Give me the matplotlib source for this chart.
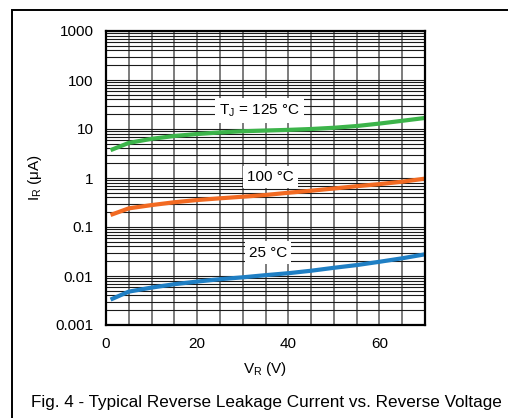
import matplotlib
matplotlib.use("Agg")
import matplotlib.pyplot as plt
from matplotlib.patches import Rectangle
from matplotlib.ticker import FixedLocator, NullFormatter, LogLocator

plt.rcParams['font.family'] = ['Liberation Sans', 'DejaVu Sans']
plt.rcParams['mathtext.fontset'] = 'custom'
plt.rcParams['mathtext.rm'] = 'Liberation Sans'

vr = [1, 5, 10, 15, 20, 25, 30, 35, 40, 45, 50, 55, 60, 65, 70]
ir_125 = [3.7, 5.2, 6.3, 7.2, 7.9, 8.5, 9.0, 9.3, 9.6, 10.0, 10.6, 11.5, 12.9, 14.7, 16.8]
ir_100 = [0.176, 0.24, 0.28, 0.32, 0.355, 0.385, 0.415, 0.45, 0.50, 0.55, 0.61, 0.68, 0.75, 0.84, 0.97]
ir_25 = [0.0033, 0.0048, 0.0058, 0.0068, 0.0077, 0.0086, 0.0094, 0.0104, 0.0114, 0.0128, 0.0147, 0.0167, 0.0195, 0.023, 0.0277]

x_ticks = [0, 20, 40, 60]
y_ticks = [0.001, 0.01, 0.1, 1, 10, 100, 1000]
y_ticklabels = ['0.001', '0.01', '0.1', '1', '10', '100', '1000']

fig = plt.figure(figsize=(5.08, 4.18), dpi=100)
ax = fig.add_axes([106/508, 1-325/418, 319/508, 294/418])

ax.set_yscale('log')
ax.set_xlim(0, 70)
ax.set_ylim(0.001, 1000)

# grid
ax.xaxis.set_minor_locator(FixedLocator(list(range(5, 70, 5))))
ax.yaxis.set_minor_locator(LogLocator(base=10, subs=range(2, 10)))
ax.yaxis.set_minor_formatter(NullFormatter())
ax.grid(True, which='both', axis='x', color='#666666', linewidth=1.2, zorder=1)
ax.grid(True, which='both', axis='y', color='#1a1a1a', linewidth=0.8, zorder=1)
ax.set_axisbelow(True)

ax.plot(vr, ir_125, color='#3cb44a', linewidth=3.0, zorder=4, solid_capstyle='butt')
ax.plot(vr, ir_100, color='#f26a22', linewidth=3.0, zorder=4, solid_capstyle='butt')
ax.plot(vr, ir_25, color='#1f7fc4', linewidth=3.0, zorder=4, solid_capstyle='butt')

bbox = dict(facecolor='white', edgecolor='none', pad=3)
ax.text(33.7, 24, r'T$_\mathregular{J}$ = 125 °C', fontsize=11, ha='center', va='center', bbox=bbox, zorder=3)
ax.text(36, 1.05, '100 °C', fontsize=11, ha='center', va='center', bbox=bbox, zorder=3)
ax.text(35.5, 0.03, '25 °C', fontsize=11, ha='center', va='center', bbox=bbox, zorder=3)

ax.set_xticks(x_ticks)
ax.set_yticks(y_ticks)
ax.set_yticklabels(y_ticklabels)
ax.tick_params(which='both', length=0, labelsize=11)
ax.tick_params(axis='x', pad=9)
ax.tick_params(axis='y', pad=9)

for s in ax.spines.values():
    s.set_linewidth(1.6)
    s.set_color('black')
    s.set_zorder(5)

ax.set_xlabel(r'V$_\mathregular{R}$ (V)', fontsize=11, labelpad=6)
ax.set_ylabel(r'I$_\mathregular{R}$ (μA)', fontsize=11, labelpad=8)

fig.text(266/508, 1-403/418, 'Fig. 4 - Typical Reverse Leakage Current vs. Reverse Voltage',
         fontsize=12.3, ha='center', va='center')

fig.patches.append(Rectangle((12/508, -0.1), 1.2, 1.1 - 10/418 + 0.0, transform=fig.transFigure,
                             fill=False, edgecolor='black', linewidth=1.4))

fig.savefig('out.png', dpi=100)
